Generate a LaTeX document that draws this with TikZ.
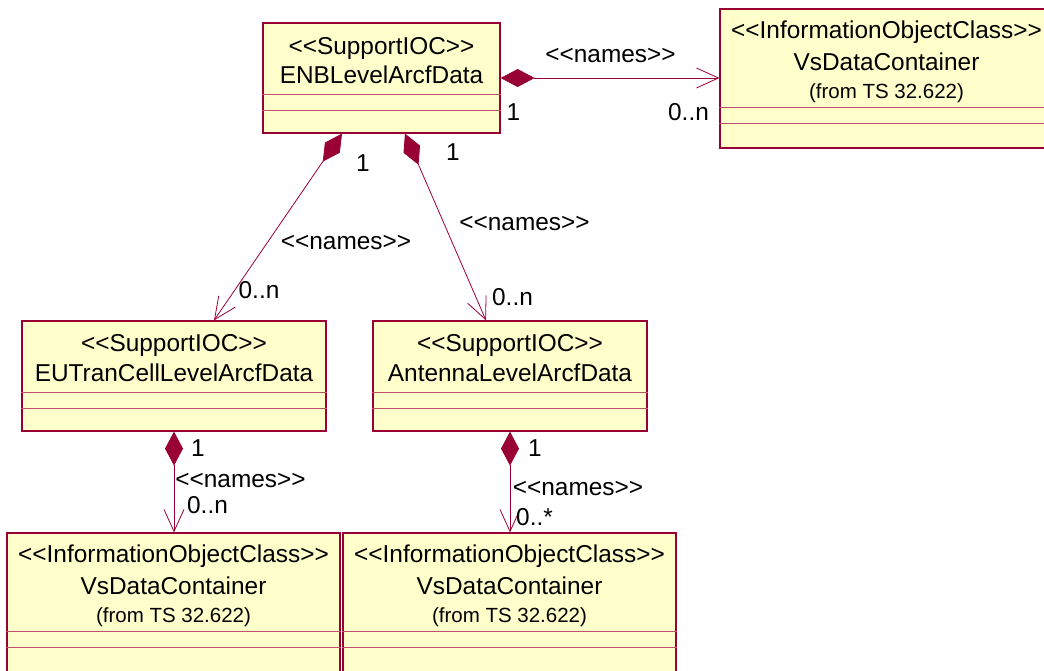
\documentclass[tikz,border=0pt]{standalone}
\usepackage{fontspec}
\setmainfont{Liberation Sans}[Ligatures=TeXOff]
\usetikzlibrary{arrows.meta}
\definecolor{umlred}{RGB}{153,0,51}
\definecolor{umlfill}{RGB}{255,255,204}
\definecolor{umldiv}{RGB}{190,80,110}
\begin{document}
\begin{tikzpicture}[x=1pt,y=-1pt,
  classbox/.style={draw=umlred,fill=umlfill,line width=1.2pt,inner sep=0pt,rectangle},
  divider/.style={draw=umldiv,line width=0.9pt},
  txt/.style={font=\fontsize{24.4}{29}\selectfont,anchor=base,inner sep=0pt},
  smalltxt/.style={font=\fontsize{20.5}{24}\selectfont,anchor=base,inner sep=0pt},
  comp/.style={draw=umlred,line width=0.8pt,
    {Diamond[length=34pt,width=18pt]}-{Straight Barb[length=22pt,width=20pt]}}]
\useasboundingbox (0,0) rectangle (1044,671);
\clip (0,0) rectangle (1044,671);

% ---- class boxes ----
\node[classbox,minimum width=237pt,minimum height=110pt] (enb) at (381.5,78) {};
\node[classbox,minimum width=333pt,minimum height=139pt] (vsa) at (886.5,78.5) {};
\node[classbox,minimum width=304pt,minimum height=110pt] (eut) at (174,376) {};
\node[classbox,minimum width=274pt,minimum height=110pt] (ant) at (510,376) {};
\node[classbox,minimum width=333pt,minimum height=139pt] (vsb) at (173.5,602.5) {};
\node[classbox,minimum width=333pt,minimum height=139pt] (vsc) at (509.5,602.5) {};

% ---- texts in boxes ----
\node[txt] (enb1) at ([yshift=-32pt]enb.north) {<<SupportIOC>>};
\node[txt] (enb2) at ([yshift=-61pt]enb.north) {ENBLevelArcfData};
\node[txt] (eut1) at ([yshift=-31.5pt]eut.north) {<<SupportIOC>>};
\node[txt] (eut2) at ([yshift=-61pt]eut.north) {EUTranCellLevelArcfData};
\node[txt] (ant1) at ([yshift=-31.5pt]ant.north) {<<SupportIOC>>};
\node[txt] (ant2) at ([yshift=-61pt]ant.north) {AntennaLevelArcfData};
\foreach \b in {vsa,vsb,vsc}{
  \node[txt] (\b1) at ([yshift=-30.5pt]\b.north) {<<InformationObjectClass>>};
  \node[txt] (\b2) at ([yshift=-62pt]\b.north) {VsDataContainer};
  \node[smalltxt] (\b3) at ([yshift=-90.5pt]\b.north) {(from TS 32.622)};
  \draw[divider] ([yshift=-99.5pt]\b.north west) -- ([yshift=-99.5pt]\b.north east);
  \draw[divider] ([yshift=-115pt]\b.north west) -- ([yshift=-115pt]\b.north east);
}
\foreach \b in {enb,eut,ant}{
  \draw[divider] ([yshift=-72pt]\b.north west) -- ([yshift=-72pt]\b.north east);
  \draw[divider] ([yshift=-88pt]\b.north west) -- ([yshift=-88pt]\b.north east);
}

% ---- connectors ----
\draw[comp] (enb.east) -- (vsa.west |- enb.east);
\draw[comp] ([xshift=-39.5pt]enb.south) -- ([xshift=40pt]eut.north);
\draw[comp] ([xshift=23.5pt]enb.south) -- ([xshift=-24pt]ant.north);
\draw[comp] (eut.south) -- (eut.south |- vsb.north);
\draw[comp] (ant.south) -- (ant.south |- vsc.north);

% ---- connector labels ----
\node[txt] (n1) at (610.5,63) {<<names>>};
\node[txt] (m1a) at (513.5,121) {1};
\node[txt] (m1b) at (688.5,121) {0..n};

\node[txt] (n2) at (346,250) {<<names>>};
\node[txt] (m2a) at (363,172) {1};
\node[txt] (m2b) at (259,298) {0..n};

\node[txt] (n3) at (524.5,230) {<<names>>};
\node[txt] (m3a) at (453,161) {1};
\node[txt] (m3b) at (512.5,305) {0..n};

\node[txt] (n4) at (240.5,487) {<<names>>};
\node[txt] (m4a) at (198,456) {1};
\node[txt] (m4b) at (207.5,513) {0..n};

\node[txt] (n5) at (578,495) {<<names>>};
\node[txt] (m5a) at (535,456) {1};
\node[txt] (m5b) at (534.5,525) {0..*};
\end{tikzpicture}
\end{document}
